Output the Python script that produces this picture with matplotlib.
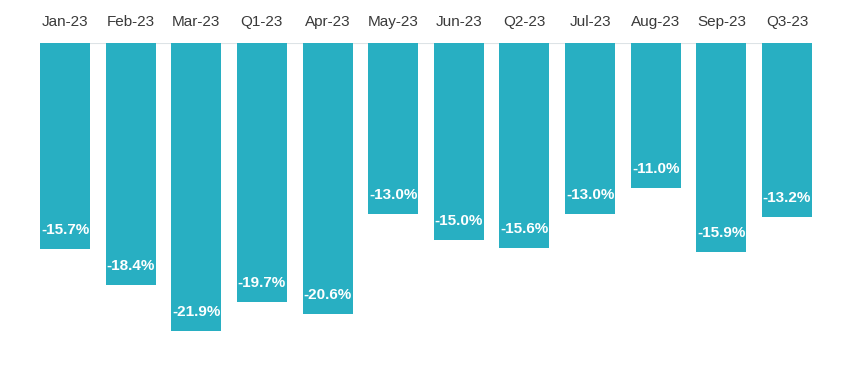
import matplotlib
matplotlib.use("Agg")
import matplotlib.pyplot as plt

categories = ["Jan-23", "Feb-23", "Mar-23", "Q1-23", "Apr-23", "May-23",
              "Jun-23", "Q2-23", "Jul-23", "Aug-23", "Sep-23", "Q3-23"]
values = [-15.7, -18.4, -21.9, -19.7, -20.6, -13.0,
          -15.0, -15.6, -13.0, -11.0, -15.9, -13.2]

W, H = 850, 378
fig = plt.figure(figsize=(W / 100, H / 100), dpi=100)
ax = fig.add_axes([0, 0, 1, 1 - 43 / H])

x = list(range(len(categories)))
bw = 0.762
bar_color = "#28afc2"
ax.bar(x, values, width=bw, color=bar_color, zorder=2)

# x limits so that bar centers land at pixel 65 .. 787
step = (787 - 65) / 11
left = -65 / step
right = left + W / step
ax.set_xlim(left, right)
ax.set_ylim(-335 / 13.15, 0)

ax.hlines(0, -bw / 2, len(categories) - 1 + bw / 2, color="#dde3e6", lw=1.5, zorder=1)

for xi, v in zip(x, values):
    ax.text(xi, v + 1.45, f"{v:.1f}%", ha="center", va="center", color="white",
            fontsize=11, fontweight="bold", family=["Liberation Sans", "DejaVu Sans"], zorder=3)

ax.xaxis.tick_top()
ax.set_xticks(x)
ax.set_xticklabels(categories, fontsize=11, color="#3a3a3a", family=["Liberation Sans", "DejaVu Sans"])
ax.tick_params(axis="x", length=0, pad=10)
ax.set_yticks([])
for s in ax.spines.values():
    s.set_visible(False)

fig.savefig("out.png", dpi=100, facecolor="white")
